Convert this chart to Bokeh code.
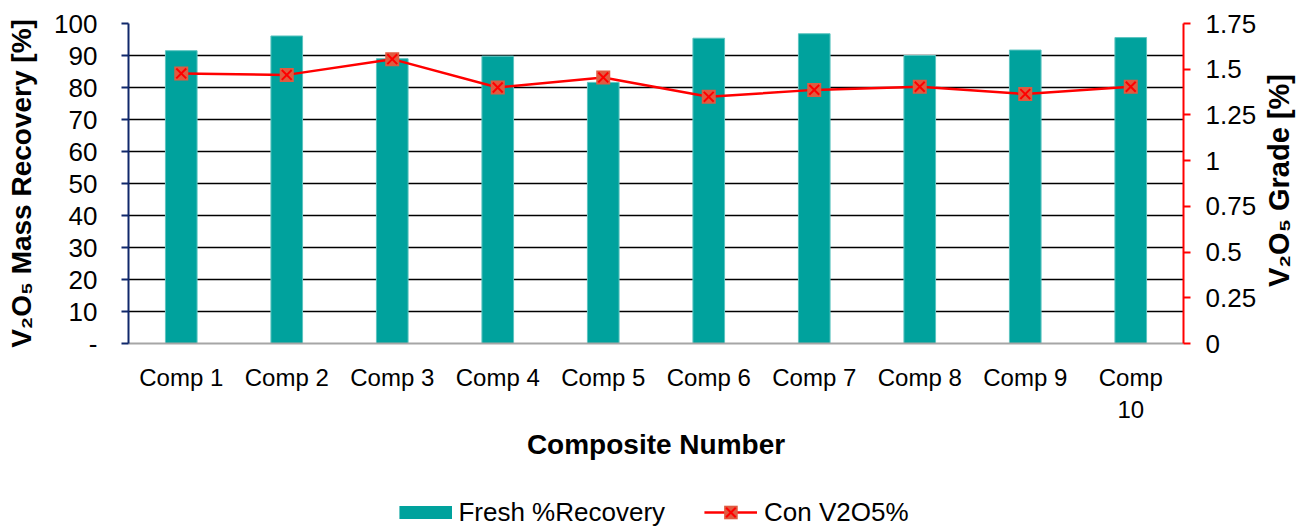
import math
from bokeh.plotting import figure
from bokeh.layouts import column
from bokeh.models import (Range1d, LinearAxis, FixedTicker, Legend, LegendItem,
                          ColumnDataSource)
from bokeh.embed import file_html
from bokeh.resources import INLINE

# ---- data ----
categories = ["Comp 1", "Comp 2", "Comp 3", "Comp 4", "Comp 5",
              "Comp 6", "Comp 7", "Comp 8", "Comp 9", "Comp 10"]
recovery = [91.5, 96.1, 89.0, 89.8, 81.6, 95.4, 96.8, 90.0, 91.7, 95.6]
grade = [1.477, 1.469, 1.555, 1.400, 1.455, 1.349, 1.387, 1.404, 1.364, 1.404]
left_ticks = [0, 10, 20, 30, 40, 50, 60, 70, 80, 90, 100]
left_tick_labels = ["-", "10", "20", "30", "40", "50", "60", "70", "80", "90", "100"]
right_ticks = [0, 0.25, 0.5, 0.75, 1.0, 1.25, 1.5, 1.75]
right_tick_labels = ["0", "0.25", "0.5", "0.75", "1", "1.25", "1.5", "1.75"]
series_names = ["Fresh %Recovery", "Con V2O5%"]
x_title = "Composite Number"
left_title = "V\u2082O\u2085 Mass Recovery [%]"
right_title = "V\u2082O\u2085 Grade [%]"

FONT = "Liberation Sans"
TEAL = "#00A29D"
RED = "#FF0000"
MARK = "#E05A40"
NAVY = "#10286B"

# category positions on a numeric axis (so long names can wrap like Excel)
x_pos = list(range(1, len(categories) + 1))
x_labels = [c if len(c) <= 6 else c.replace(" ", "\n") for c in categories]

src = ColumnDataSource(dict(x=x_pos, rec=recovery, g=grade))

p = figure(frame_width=1055, frame_height=320,
           x_range=Range1d(0.5, len(categories) + 0.5),
           y_range=Range1d(0, 100),
           output_backend="svg", toolbar_location=None,
           min_border_left=128, min_border_right=127,
           min_border_top=23, min_border_bottom=152)
p.extra_y_ranges = {"grade": Range1d(0, 1.75)}
p.outline_line_color = None
p.background_fill_color = "white"

p.vbar(x="x", top="rec", width=0.3, source=src,
       fill_color=TEAL, line_color="#5CC4C0", line_width=1)
p.line(x="x", y="g", source=src, y_range_name="grade",
       line_color=RED, line_width=2.5)
p.scatter(x="x", y="g", source=src, y_range_name="grade", marker="square",
          size=14, fill_color=MARK, line_color=None)
p.scatter(x="x", y="g", source=src, y_range_name="grade", marker="x",
          size=14, line_color=RED, line_width=2)

# grid
p.xgrid.grid_line_color = None
p.ygrid.ticker = FixedTicker(ticks=left_ticks)
p.ygrid.grid_line_color = "black"
p.ygrid.grid_line_width = 1.5

# left axis
ya = p.yaxis[0]
ya.ticker = FixedTicker(ticks=left_ticks)
ya.major_label_overrides = dict(zip(left_ticks, left_tick_labels))
ya.axis_line_color = NAVY
ya.axis_line_width = 2
ya.major_tick_line_color = NAVY
ya.major_tick_line_width = 2
ya.major_tick_in = 0
ya.major_tick_out = 7
ya.minor_tick_line_color = None
ya.major_label_standoff = 24
ya.major_label_text_font = FONT
ya.major_label_text_font_size = "26px"
ya.major_label_text_color = "black"
ya.axis_label = left_title
ya.axis_label_text_font = FONT
ya.axis_label_text_font_style = "bold"
ya.axis_label_text_font_size = "28px"
ya.axis_label_text_color = "black"
ya.axis_label_standoff = 14

# right axis
ra = LinearAxis(y_range_name="grade", ticker=FixedTicker(ticks=right_ticks))
ra.major_label_overrides = dict(zip(right_ticks, right_tick_labels))
ra.axis_line_color = RED
ra.axis_line_width = 2
ra.major_tick_line_color = RED
ra.major_tick_line_width = 2
ra.major_tick_in = 0
ra.major_tick_out = 7
ra.minor_tick_line_color = None
ra.major_label_standoff = 15
ra.major_label_text_font = FONT
ra.major_label_text_font_size = "26px"
ra.major_label_text_color = "black"
ra.axis_label = "\u00a0" * 7 + right_title
ra.axis_label_text_font = FONT
ra.axis_label_text_font_style = "bold"
ra.axis_label_text_font_size = "29px"
ra.axis_label_text_color = "black"
ra.axis_label_standoff = 20
ra.axis_label_orientation = math.pi / 2
ra.axis_label_align = "start"
p.add_layout(ra, "right")

# bottom axis
xa = p.xaxis[0]
xa.ticker = FixedTicker(ticks=x_pos)
xa.major_label_overrides = dict(zip(x_pos, x_labels))
xa.axis_line_color = "#A6A6A6"
xa.axis_line_width = 2
xa.major_tick_line_color = None
xa.minor_tick_line_color = None
xa.major_tick_out = 0
xa.major_label_standoff = 20
xa.major_label_text_font = FONT
xa.major_label_text_font_size = "24px"
xa.major_label_text_color = "black"
xa.axis_label = x_title
xa.axis_label_text_font = FONT
xa.axis_label_text_font_style = "bold"
xa.axis_label_text_font_size = "28px"
xa.axis_label_text_color = "black"
xa.axis_label_standoff = 3

# legend strip beneath the chart (keys drawn from the same series, off-view)
lp = figure(width=1310, height=34, x_range=Range1d(0.5, len(categories) + 0.5),
            y_range=Range1d(1000, 1001), x_axis_location=None,
            y_axis_location=None, toolbar_location=None, min_border=0,
            output_backend="svg")
lp.outline_line_color = None
lp.xgrid.grid_line_color = None
lp.ygrid.grid_line_color = None
k_bar = lp.line(x="x", y="rec", source=src, line_color=TEAL, line_width=13)
k_ln = lp.line(x="x", y="g", source=src, line_color=RED, line_width=2.5)
k_sq = lp.scatter(x="x", y="g", source=src, marker="square",
                  fill_color=MARK, line_color=None)
k_x = lp.scatter(x="x", y="g", source=src, marker="x",
                 line_color=RED, line_width=2)

lg = Legend(items=[LegendItem(label=series_names[0], renderers=[k_bar]),
                   LegendItem(label=series_names[1], renderers=[k_ln, k_sq, k_x])],
            location="center", orientation="horizontal",
            glyph_width=53, glyph_height=34, label_standoff=7, spacing=39,
            label_text_font=FONT, label_text_font_size="26px",
            label_text_color="black", padding=0, margin=0,
            border_line_color=None, background_fill_alpha=0)
lp.add_layout(lg, "center")

layout = column(p, lp, spacing=0)
open("out.html", "w").write(file_html(layout, INLINE))
